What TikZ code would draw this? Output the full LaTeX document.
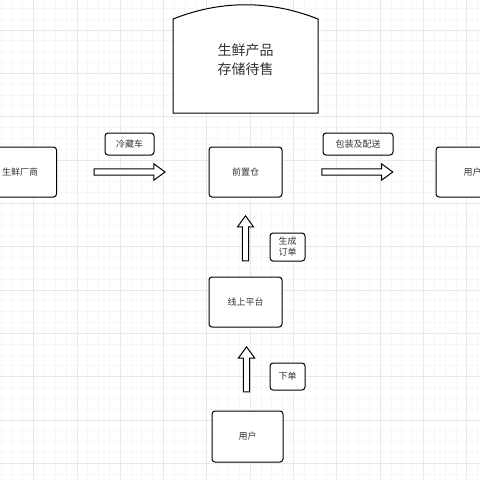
\documentclass[tikz,border=0pt]{standalone}
\usepackage{fontspec}
\usepackage{tikz}
\usetikzlibrary{
    arrows.meta,
    positioning,
    calc,
    shapes.arrows
}
\newfontfamily\cjk{Noto Sans CJK SC}
\definecolor{gridMinor}{RGB}{246,246,246}
\definecolor{gridMajor}{RGB}{232,232,232}
\definecolor{txtGray}{RGB}{51,51,51}
\tikzset{
  box/.style    = {draw, rounded corners=3pt, line width=1pt, minimum width=73pt,
                   minimum height=50pt, align=center, font=\cjk\fontsize{9}{11}\selectfont,
                   text=txtGray, fill=white},
  tag/.style    = {draw, rounded corners=3pt, line width=1pt, align=center,
                   inner sep=0pt, font=\cjk\fontsize{9}{11}\selectfont, text=txtGray, fill=white},
  harrow/.style = {single arrow, draw, line width=1pt, fill=white, inner sep=2.6pt,
                   minimum width=16pt, single arrow head extend=5pt,
                   single arrow tip angle=72}
}

\begin{document}
\begin{tikzpicture}[x=1pt,y=-1pt]
\useasboundingbox (0,0) rectangle (480,480);
\fill[white] (0,0) rectangle (480,480);
% grid
\foreach \i in {0,...,44} {
  \pgfmathsetmacro{\gx}{1+\i*10.83}
  \pgfmathsetmacro{\gy}{8.3+\i*10.83}
  \pgfmathtruncatemacro{\mx}{mod(\i,4)}
  \ifnum\mx=3 \draw[gridMajor,line width=0.6pt] (\gx,0) -- (\gx,480);
  \else \draw[gridMinor,line width=0.6pt] (\gx,0) -- (\gx,480); \fi
  \ifnum\mx=2 \draw[gridMajor,line width=0.6pt] (0,\gy) -- (480,\gy);
  \else \draw[gridMinor,line width=0.6pt] (0,\gy) -- (480,\gy); \fi
}

% storage
\draw[line width=1pt,fill=white] (173,113) -- (173,19) .. controls (221,0) and (270,0) .. (318,19)
  -- (318,113) -- cycle;
\node[align=center, font=\cjk\fontsize{14}{19}\selectfont, text=txtGray] (store) at (245.5,60)
  {生鲜产品\\存储待售};

% boxes
\node[box] (maker) at (20,172) {生鲜厂商};
\node[box] (cang) at (245.5,172) {前置仓};
\node[box] (user1) at (472.5,172) {用户};
\node[box] (platform) at (245.5,302) {线上平台};
\node[box,minimum width=71pt,minimum height=51pt] (user2) at (247.5,436.5) {用户};

% labels
\node[tag,minimum width=49pt,minimum height=22pt] (coldcar) at (129.5,144) {冷藏车};
\node[tag,minimum width=70pt,minimum height=22pt] (deliver) at (358,144) {包装及配送};
\node[tag,minimum width=35pt,minimum height=28pt] (order) at (287.5,247) {生成\\订单};
\node[tag,minimum width=35pt,minimum height=27pt] (place) at (287.5,376.5) {下单};

% arrows
\path (maker.east) -- (cang.west) node[pos=0.465, harrow, minimum height=71pt] (a1) {};
\path (cang.east) -- (user1.west) node[pos=0.475, harrow, minimum height=71pt] (a2) {};
\path (platform.north) -- (cang.south) node[pos=0.456, harrow, rotate=90, minimum height=45pt] (a3) {};
\path (user2.north) -- (platform.south) node[pos=0.47, harrow, rotate=90, minimum height=45pt] (a4) {};
\end{tikzpicture}
\end{document}
